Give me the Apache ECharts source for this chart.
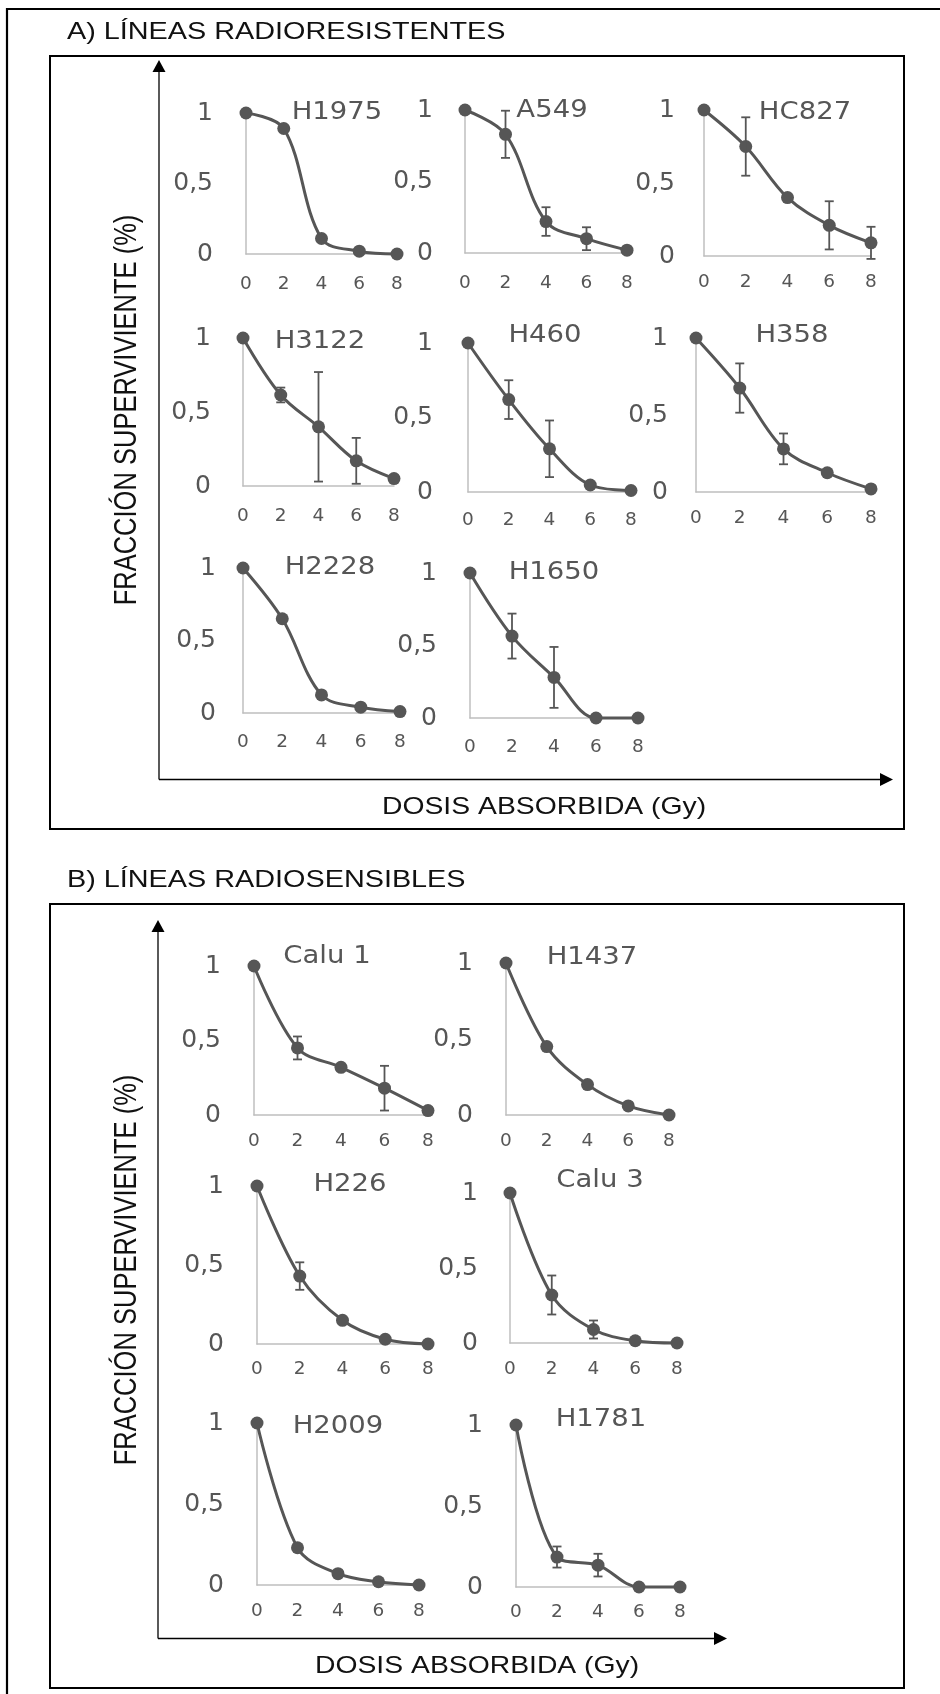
<!DOCTYPE html>
<html>
<head>
<meta charset="utf-8">
<script src="https://cdn.jsdelivr.net/npm/echarts@6/dist/echarts.min.js"></script>
<style>
  html, body { margin: 0; padding: 0; background: #ffffff; }
  #chart { width: 940px; height: 1694px; }
</style>
</head>
<body>
<div id="chart"></div>
<script>
// Dose points (Gy) and tick labels shared by every panel
const doses = [0, 2, 4, 6, 8];
const xTickLabels = ['0', '2', '4', '6', '8'];
const yTickLabels = ['0', '0,5', '1'];

const cellLines = ['H1975', 'A549', 'HC827', 'H3122', 'H460', 'H358', 'H2228', 'H1650',
                   'Calu 1', 'H1437', 'H226', 'Calu 3', 'H2009', 'H1781'];

// Surviving fraction per dose, and error half-widths (null = no bar)
const survH1975 = [1, 0.89, 0.11, 0.02, 0.0];
const errH1975  = [null, null, 0.02, null, null];
const survA549  = [1, 0.83, 0.22, 0.10, 0.02];
const errA549   = [null, 0.165, 0.10, 0.08, null];
const survHC827 = [1, 0.75, 0.40, 0.21, 0.09];
const errHC827  = [null, 0.20, null, 0.165, 0.11];
const survH3122 = [1, 0.615, 0.40, 0.17, 0.05];
const errH3122  = [null, 0.05, 0.37, 0.155, null];
const survH460  = [1, 0.62, 0.29, 0.047, 0.01];
const errH460   = [null, 0.13, 0.19, null, null];
const survH358  = [1, 0.675, 0.28, 0.125, 0.02];
const errH358   = [null, 0.16, 0.10, null, null];
const survH2228 = [1, 0.65, 0.125, 0.04, 0.01];
const errH2228  = [null, null, null, null, null];
const survH1650 = [1, 0.565, 0.28, 0.0, 0.0];
const errH1650  = [null, 0.155, 0.21, null, null];
const survCalu1 = [1, 0.45, 0.32, 0.18, 0.03];
const errCalu1  = [null, 0.077, 0.015, 0.15, null];
const survH1437 = [1, 0.45, 0.20, 0.06, 0.0];
const errH1437  = [null, null, null, null, null];
const survH226  = [1, 0.43, 0.15, 0.03, 0.0];
const errH226   = [null, 0.087, null, null, null];
const survCalu3 = [1, 0.32, 0.09, 0.015, 0.0];
const errCalu3  = [null, 0.13, 0.06, null, null];
const survH2009 = [1, 0.23, 0.07, 0.02, 0.0];
const errH2009  = [null, null, null, null, null];
const survH1781 = [1, 0.185, 0.135, 0.0, 0.0];
const errH1781  = [null, 0.065, 0.07, null, null];

const survival = [survH1975, survA549, survHC827, survH3122, survH460, survH358, survH2228, survH1650,
                  survCalu1, survH1437, survH226, survCalu3, survH2009, survH1781];
const errors = [errH1975, errA549, errHC827, errH3122, errH460, errH358, errH2228, errH1650,
                errCalu1, errH1437, errH226, errCalu3, errH2009, errH1781];

// Panel geometry: [left, right, top, bottom, yLabelGap, xLabelGap, titleX, titleY]
const panels = [
  [246, 397, 113, 254, 33, 21, 337, 112],
  [465, 627, 110, 253, 32, 21, 552, 110],
  [704, 871, 110, 256, 29, 17, 805, 112],
  [243, 394, 338, 486, 32, 21, 320, 341],
  [468, 631, 343, 492, 35, 19, 545, 335],
  [696, 871, 338, 492, 28, 17, 792, 335],
  [243, 400, 568, 713, 27, 20, 330, 567],
  [470, 638, 573, 718, 33, 20, 554, 572],
  [254, 428, 966, 1115, 33, 17, 327, 956],
  [506, 669, 963, 1115, 33, 17, 592, 957],
  [257, 428, 1186, 1344, 33, 16, 350, 1184],
  [510, 677, 1193, 1343, 32, 17, 600, 1180],
  [257, 419, 1423, 1585, 33, 17, 338, 1426],
  [516, 680, 1425, 1587, 33, 16, 601, 1419]
];

const INK = '#565656';
const AXIS = '#bfbfbf';
const TICK_FONT = 'DejaVu Sans';
const TEXT_FONT = 'Liberation Sans';

const grids = [], xAxes = [], yAxes = [], series = [], graphics = [];

panels.forEach(function (p, i) {
  const [left, right, top, bottom, yGap, xGap, tx, ty] = p;
  grids.push({ left: left, top: top, width: right - left, height: bottom - top, containLabel: false });
  xAxes.push({
    type: 'value', gridIndex: i, min: 0, max: 8, interval: 2,
    axisLine: { show: true, onZero: false, lineStyle: { color: AXIS, width: 1.5 } },
    axisTick: { show: false }, splitLine: { show: false },
    axisLabel: {
      margin: xGap, color: INK, fontFamily: TICK_FONT, fontSize: 18.5,
      formatter: function (v) { return xTickLabels[doses.indexOf(v)]; }
    }
  });
  yAxes.push({
    type: 'value', gridIndex: i, min: 0, max: 1, interval: 0.5,
    axisLine: { show: true, onZero: false, lineStyle: { color: AXIS, width: 1.5 } },
    axisTick: { show: false }, splitLine: { show: false },
    axisLabel: {
      margin: yGap, color: INK, fontFamily: TICK_FONT, fontSize: 25,
      formatter: function (v) { return yTickLabels[Math.round(v / 0.5)]; }
    }
  });
  const surv = survival[i];
  series.push({
    type: 'line', name: cellLines[i], xAxisIndex: i, yAxisIndex: i,
    data: doses.map(function (d, k) { return [d, surv[k]]; }),
    smooth: 0.35, clip: false,
    symbol: 'circle', symbolSize: 13,
    lineStyle: { color: INK, width: 3 },
    itemStyle: { color: INK },
    z: 3
  });
  const err = errors[i];
  const barData = [];
  doses.forEach(function (d, k) { if (err[k] != null) barData.push([d, surv[k], err[k]]); });
  series.push({
    type: 'custom', xAxisIndex: i, yAxisIndex: i, clip: false, z: 4,
    encode: { x: 0, y: 1 },
    data: barData,
    renderItem: function (params, api) {
      const x = api.value(0), y = api.value(1), e = api.value(2);
      const hi = api.coord([x, y + e]);
      const lo = api.coord([x, y - e]);
      const cap = 4.5;
      const st = { stroke: INK, lineWidth: 1.8 };
      return {
        type: 'group',
        children: [
          { type: 'line', shape: { x1: hi[0], y1: hi[1], x2: lo[0], y2: lo[1] }, style: st },
          { type: 'line', shape: { x1: hi[0] - cap, y1: hi[1], x2: hi[0] + cap, y2: hi[1] }, style: st },
          { type: 'line', shape: { x1: lo[0] - cap, y1: lo[1], x2: lo[0] + cap, y2: lo[1] }, style: st }
        ]
      };
    }
  });
  graphics.push({
    type: 'text', x: tx, y: ty, scaleX: 1.1,
    style: { text: cellLines[i], fill: INK, font: '25px "' + TICK_FONT + '"', textAlign: 'center', textVerticalAlign: 'middle' },
    z: 10
  });
});

// Frames
graphics.push({ type: 'rect', shape: { x: 7, y: 9, width: 960, height: 1720 }, style: { fill: null, stroke: '#000', lineWidth: 2.2 } });
graphics.push({ type: 'rect', shape: { x: 50, y: 56, width: 854, height: 773 }, style: { fill: null, stroke: '#000', lineWidth: 2 } });
graphics.push({ type: 'rect', shape: { x: 50, y: 904, width: 854, height: 784 }, style: { fill: null, stroke: '#000', lineWidth: 2 } });

// Shared axis arrows for each block
function arrows(x0, yTop, yAxisLine, xTip) {
  graphics.push({ type: 'line', shape: { x1: x0, y1: yTop + 10, x2: x0, y2: yAxisLine }, style: { stroke: '#000', lineWidth: 1.3 } });
  graphics.push({ type: 'polygon', shape: { points: [[x0, yTop], [x0 - 6.5, yTop + 12], [x0 + 6.5, yTop + 12]] }, style: { fill: '#000' } });
  graphics.push({ type: 'line', shape: { x1: x0, y1: yAxisLine, x2: xTip - 10, y2: yAxisLine }, style: { stroke: '#000', lineWidth: 1.3 } });
  graphics.push({ type: 'polygon', shape: { points: [[xTip, yAxisLine], [xTip - 13, yAxisLine - 6.5], [xTip - 13, yAxisLine + 6.5]] }, style: { fill: '#000' } });
}
arrows(159, 60, 779.5, 893);
arrows(158, 920, 1638.5, 727);

function label(text, x, y, size, opts) {
  graphics.push(Object.assign({
    type: 'text', x: x, y: y,
    style: { text: text, fill: '#111', font: size + 'px "' + TEXT_FONT + '"', textAlign: 'left', textVerticalAlign: 'middle' },
    z: 10
  }, opts || {}));
}
// Block headings
label('A) LÍNEAS RADIORESISTENTES', 67, 32, 24, { scaleX: 1.2 });
label('B) LÍNEAS RADIOSENSIBLES', 67, 880, 24, { scaleX: 1.2 });
// Axis titles
label('DOSIS ABSORBIDA (Gy)', 382, 807, 24, { scaleX: 1.18 });
label('DOSIS ABSORBIDA (Gy)', 315, 1666, 24, { scaleX: 1.18 });
[[128, 410], [128, 1270]].forEach(function (c) {
  graphics.push({
    type: 'text', x: c[0], y: c[1], rotation: Math.PI / 2, scaleY: 1.2,
    style: { text: 'FRACCIÓN SUPERVIVIENTE (%)', fill: '#111', font: '25.5px "' + TEXT_FONT + '"', textAlign: 'center', textVerticalAlign: 'middle' },
    z: 10
  });
});

const chart = echarts.init(document.getElementById('chart'), null, { renderer: 'canvas' });
chart.setOption({
  animation: false,
  backgroundColor: '#ffffff',
  grid: grids,
  xAxis: xAxes,
  yAxis: yAxes,
  series: series,
  graphic: { elements: graphics }
});
</script>
</body>
</html>
